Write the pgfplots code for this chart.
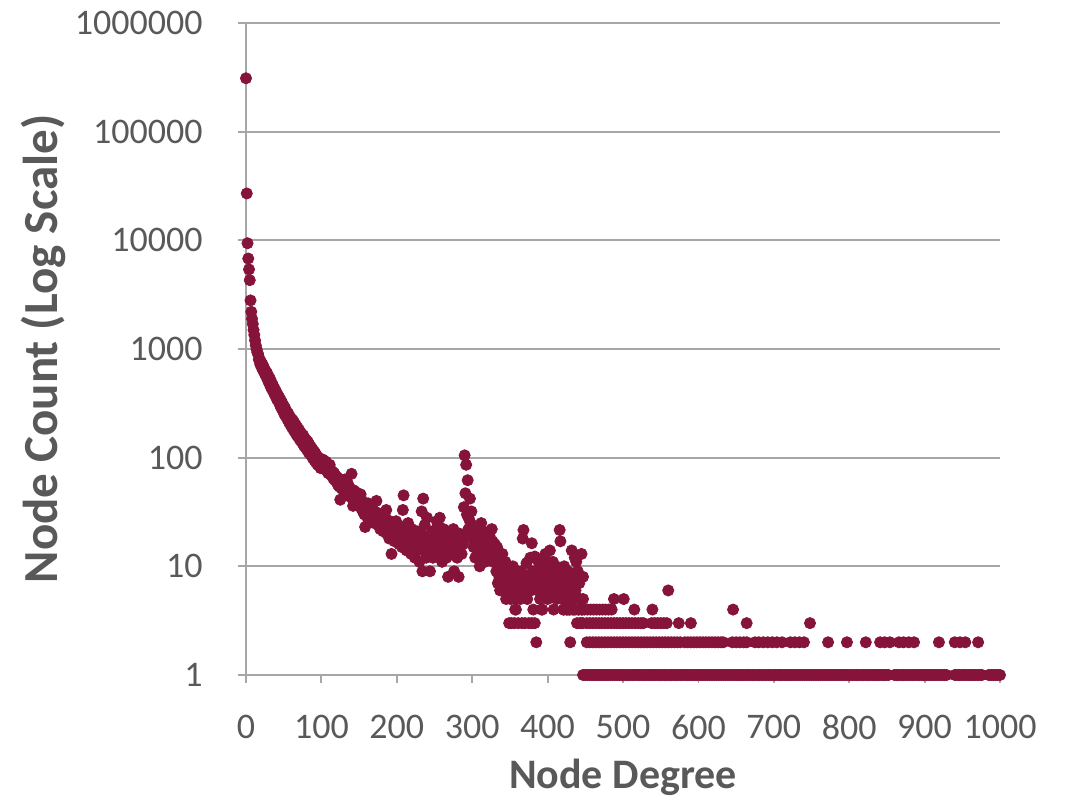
\documentclass[border=0pt]{standalone}
\usepackage{fontspec}
\setmainfont{Carlito}
\usepackage{pgfplots}
\pgfplotsset{compat=1.18}
\definecolor{dotc}{RGB}{134,20,58}
\definecolor{txt}{RGB}{89,89,89}
\definecolor{ax}{RGB}{166,166,166}
\pgfplotsset{dots/.style={only marks, mark=*, mark size=2.8pt, color=dotc, mark options={draw=dotc, fill=dotc}}}
\begin{document}
\begin{tikzpicture}
\begin{axis}[
  scale only axis, width=377pt, height=326pt,
  xmin=0, xmax=1000, ymode=log, log basis y=10, ymin=1, ymax=1000000,
  axis x line*=bottom, axis y line*=left,
  axis line style={-, draw=ax, line width=0.9pt},
  tick align=outside, major tick length=4pt,
  tick style={draw=ax, line width=0.9pt},
  yminorticks=false,
  ymajorgrids, grid style={draw=ax, line width=0.9pt},
  xtick={0,100,200,300,400,500,600,700,800,900,1000},
  xticklabels={0,100,200,300,400,500,600,700,800,900,1000},
  ytick={1,10,100,1000,10000,100000,1000000},
  yticklabels={1,10,100,1000,10000,100000,1000000},
  ticklabel style={font=\fontsize{18}{18}\selectfont, text=txt},
  xticklabel style={anchor=center, yshift=-22pt},
  yticklabel style={anchor=east, inner sep=0pt, xshift=-17.5pt},
  xlabel={Node Degree}, ylabel={Node Count (Log Scale)},
  xlabel style={at={(axis description cs:0.5,-0.1564)}, anchor=center, text=txt, font=\fontsize{21}{21}\selectfont\bfseries},
  ylabel style={at={(axis description cs:-0.268,0.5)}, anchor=center, text=txt, font=\fontsize{24.5}{24.5}\selectfont\bfseries},
  clip=false,
]
% degrees 0-100
\addplot[dots] coordinates {(0,310000)(1,27000)(2,9400)(3,6800)(4,5400)(5,4300)(6,2800)(7,2200)(8,1900)(9,1700)(10,1500)(11,1350)(12,1200)(13,1080)(14,1000)(15,930)(16,900)(17,800)(18,810)(19,720)(20,760)(21,670)(22,720)(23,630)(24,670)(25,590)(26,630)(27,555)(28,600)(29,515)(30,560)(31,480)(32,530)(33,445)(34,490)(35,420)(36,460)(37,395)(38,430)(39,370)(40,405)(41,345)(42,380)(43,330)(44,360)(45,305)(46,340)(47,285)(48,320)(49,270)(50,300)(51,250)(52,285)(53,240)(54,265)(55,225)(56,255)(57,212)(58,240)(59,200)(60,228)(61,190)(62,222)(63,180)(64,210)(65,172)(66,200)(67,162)(68,190)(69,156)(70,182)(71,148)(72,172)(73,142)(74,165)(75,136)(76,160)(77,128)(78,150)(79,124)(80,145)(81,118)(82,140)(83,112)(84,132)(85,108)(86,126)(87,104)(88,120)(89,98)(90,115)(91,94)(92,110)(93,90)(94,104)(95,86)(96,100)(97,84)(98,96)(99,80)(100,92)};
% degrees 101-230
\addplot[dots] coordinates {(101,84)(102,96)(103,80)(104,88)(105,78)(106,92)(107,76)(108,84)(109,72)(110,80)(111,86)(112,70)(113,76)(114,68)(115,74)(116,64)(117,72)(118,62)(119,68)(120,60)(121,66)(122,56)(123,62)(124,54)(125,41)(126,58)(127,52)(128,62)(129,50)(130,56)(131,63)(132,48)(133,54)(134,46)(135,58)(136,50)(137,44)(138,52)(139,48)(140,71)(141,42)(142,36)(143,50)(144,44)(145,40)(146,48)(147,38)(148,45)(149,36)(150,42)(151,38)(152,46)(153,34)(154,40)(155,32)(156,38)(157,30)(158,23)(159,36)(160,33)(161,28)(162,38)(163,31)(164,26)(165,34)(166,29)(167,36)(168,27)(169,32)(170,25)(171,30)(172,28)(173,40)(174,26)(175,31)(176,24)(177,29)(178,22)(179,27)(180,25)(181,30)(182,21)(183,26)(184,23)(185,28)(186,33)(187,20)(188,25)(189,22)(190,18)(191,26)(192,21)(193,13)(194,24)(195,19)(196,23)(197,17)(198,22)(199,26)(200,20)(201,18)(202,24)(203,16)(204,21)(205,19)(206,23)(207,15)(208,33)(209,45)(210,20)(211,17)(212,22)(213,14)(214,19)(215,25)(216,16)(217,20)(218,18)(219,13)(220,22)(221,17)(222,15)(223,20)(224,12)(225,18)(226,16)(227,21)(228,14)(229,19)(230,11)};
% degrees 231-330
\addplot[dots] coordinates {(231,15)(232,20)(233,32)(234,9)(235,42)(236,14)(237,24)(238,17)(239,12)(240,28)(241,16)(242,19)(243,13)(244,9)(245,18)(246,15)(247,21)(248,12)(249,17)(250,14)(251,19)(252,16)(253,26)(254,13)(255,24)(256,18)(257,28)(258,15)(259,20)(260,11)(261,17)(262,22)(263,14)(264,19)(265,16)(266,12)(267,21)(268,8)(269,18)(270,15)(271,20)(272,13)(273,17)(274,16)(275,22)(276,9)(277,19)(278,14)(279,18)(280,12)(281,16)(282,8)(283,20)(284,15)(285,17)(286,13)(287,19)(288,16)(289,35)(290,105)(291,47)(292,86)(293,30)(294,62)(295,22)(296,27)(297,42)(298,19)(299,32)(300,24)(301,18)(302,15)(303,21)(304,12)(305,17)(306,20)(307,14)(308,23)(309,16)(310,10)(311,19)(312,25)(313,13)(314,17)(315,21)(316,15)(317,11)(318,18)(319,14)(320,20)(321,16)(322,12)(323,19)(324,15)(325,13)(326,22)(327,17)(328,11)(329,14)(330,16)};
% degrees 331-447
\addplot[dots] coordinates {(331,12)(332,9)(333,15)(334,7)(335,11)(336,8)(337,6)(338,10)(339,8.6)(340,13)(341,7)(342,9)(343,6)(344,11)(345,5)(346,8)(347,6)(348,7)(350,9)(351,5)(353,7)(354,10)(355,6)(357,5)(358,4)(359,8)(360,6)(362,7)(363,7.5)(364,5)(365,9)(366,6)(367,18)(368,21.6)(369,8)(371,6)(372,10.7)(373,5)(374,8)(376,7)(377,12)(378,6)(379,16.3)(380,9)(381,4)(382,8)(383,12.3)(384,7)(385,2)(386,9)(387,6)(388,11)(389,7)(390,5)(391,9)(392,4)(393,8)(394,6)(395,10)(396,6)(397,13)(398,7)(399,9)(400,5)(401,11)(402,8)(403,14)(404,6)(405,9)(406,7)(407,11)(408,4)(409,8)(410,6)(411,10)(412,5)(413,7)(414,9)(415,6)(416,21.6)(417,17)(418,8)(419,5)(420,7)(421,4)(422,10)(423,6)(424,8)(425,5)(426,4)(427,9)(428,6)(429,4)(430,2)(431,7)(432,14)(433,5)(434,8)(435,4)(436,12)(437,6)(438,11)(439,3)(440,9)(441,4)(442,7)(443,5)(444,3)(445,13)(446,4)(447,8)};
% count 1
\addplot[dots] coordinates {(447,1)(450,1)(453,1)(456,1)(459,1)(462,1)(465,1)(468,1)(471,1)(474,1)(477,1)(480,1)(483,1)(486,1)(489,1)(492,1)(495,1)(498,1)(501,1)(504,1)(507,1)(510,1)(513,1)(516,1)(519,1)(522,1)(525,1)(528,1)(531,1)(534,1)(537,1)(540,1)(543,1)(546,1)(549,1)(552,1)(555,1)(558,1)(561,1)(564,1)(567,1)(570,1)(573,1)(576,1)(579,1)(582,1)(585,1)(588,1)(591,1)(594,1)(597,1)(600,1)(603,1)(606,1)(609,1)(612,1)(615,1)(618,1)(621,1)(624,1)(627,1)(630,1)(633,1)(636,1)(639,1)(642,1)(645,1)(648,1)(651,1)(654,1)(657,1)(660,1)(663,1)(666,1)(669,1)(672,1)(675,1)(678,1)(681,1)(684,1)(687,1)(690,1)(693,1)(696,1)(699,1)(702,1)(705,1)(708,1)(711,1)(714,1)(717,1)(720,1)(723,1)(726,1)(729,1)(732,1)(735,1)(738,1)(741,1)(744,1)(747,1)(750,1)(753,1)(756,1)(759,1)(762,1)(765,1)(768,1)(771,1)(774,1)(777,1)(780,1)(783,1)(786,1)(789,1)(792,1)(795,1)(798,1)(801,1)(804,1)(807,1)(810,1)(813,1)(816,1)(819,1)(822,1)(825,1)(828,1)(831,1)(834,1)(837,1)(840,1)(843,1)(846,1)(849,1)(852,1)(860,1)(863,1)(866,1)(869,1)(872,1)(875,1)(878,1)(881,1)(884,1)(887,1)(890,1)(893,1)(896,1)(899,1)(902,1)(905,1)(908,1)(911,1)(914,1)(917,1)(920,1)(923,1)(926,1)(929,1)(940,1)(943,1)(946,1)(949,1)(952,1)(955,1)(958,1)(961,1)(964,1)(967,1)(970,1)(973,1)(976,1)(985,1)(988,1)(991,1)(994,1)(997,1)(1000,1)};
% count 2
\addplot[dots] coordinates {(452,2)(456,2)(460,2)(464,2)(468,2)(472,2)(476,2)(480,2)(484,2)(488,2)(492,2)(496,2)(500,2)(504,2)(508,2)(512,2)(516,2)(520,2)(524,2)(528,2)(532,2)(536,2)(540,2)(544,2)(548,2)(552,2)(556,2)(560,2)(564,2)(568,2)(572,2)(576,2)(582,2)(586,2)(590,2)(594,2)(598,2)(602,2)(606,2)(610,2)(614,2)(618,2)(622,2)(626,2)(630,2)(633,2)(645,2)(650,2)(655,2)(660,2)(664,2)(675,2)(680,2)(686,2)(692,2)(698,2)(704,2)(711,2)(722,2)(728,2)(734,2)(740,2)(772,2)(797,2)(822,2)(841,2)(847,2)(854,2)(866,2)(872,2)(879,2)(886,2)(919,2)(940,2)(947,2)(954,2)(971,2)};
% count 3
\addplot[dots] coordinates {(349,3)(352,3)(356,3)(361,3)(366,3)(370,3)(375,3)(379,3)(383,3)(443,3)(447,3)(452,3)(456,3)(460,3)(464,3)(468,3)(472,3)(476,3)(480,3)(484,3)(488,3)(492,3)(496,3)(500,3)(504,3)(508,3)(512,3)(516,3)(520,3)(524,3)(527,3)(538,3)(542,3)(546,3)(550,3)(554,3)(558,3)(574,3)(590,3)(664,3)(748,3)};
% counts 4-6
\addplot[dots] coordinates {(357,4)(393,4)(421,4)(425,4)(429,4)(433,4)(437,4)(441,4)(445,4)(449,4)(453,4)(457,4)(461,4)(465,4)(469,4)(473,4)(477,4)(481,4)(485,4)(515,4)(539,4)(646,4)(357,5)(425,5)(430,5)(447,5)(488,5)(501,5)(560,6)};
\end{axis}
\path (current axis.south west) ++(-123pt,-61.5pt) coordinate (bl);
\path (current axis.north east) ++(34.5pt,11.5pt) coordinate (tr);
\path (bl) rectangle (tr);
\end{tikzpicture}
\end{document}
